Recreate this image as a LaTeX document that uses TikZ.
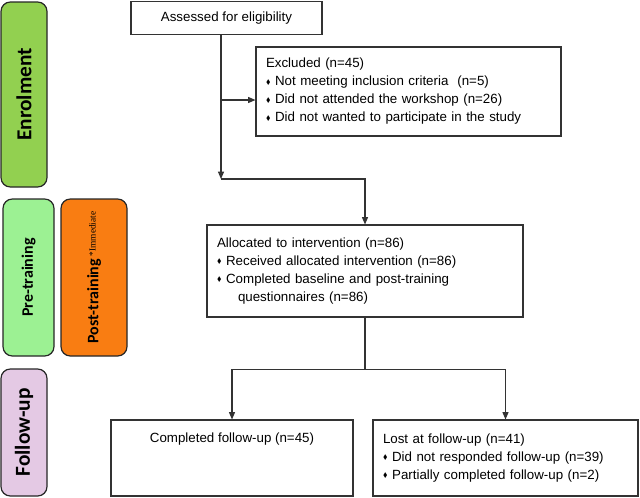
\documentclass[tikz,border=0pt]{standalone}
\usepackage{fontspec}
\usepackage{amssymb}
\setmainfont{Liberation Sans}
\newfontfamily\sidefont{Carlito}
\newfontfamily\notefont{Liberation Serif}
\definecolor{enrolgreen}{HTML}{92D050}
\definecolor{pregreen}{HTML}{9CF193}
\definecolor{postorange}{HTML}{F97D12}
\definecolor{fupurple}{HTML}{E4C9E4}
\definecolor{lineclr}{HTML}{333333}
\usetikzlibrary{arrows.meta}
\newcommand{\elbowto}[3]
{
	\draw[flowline] (#2.south) -- +(0,#1) -| (#3.north)
}
\newcommand{\itm}{\raisebox{0.25ex}{\scalebox{0.5}{$\blacklozenge$}}\hspace{3.5pt}}

\begin{document}
\begin{tikzpicture}[x=0.75pt, y=-0.75pt,
	every node/.append style={font=\fontsize{10}{13.5}\selectfont},
	flowbox/.style={shape=rectangle, draw=lineclr, line width=0.8pt, inner sep=7.5pt},
	sidebox/.style={shape=rectangle, rounded corners=7pt, draw=black!85, line width=0.9pt,
		rotate=90, inner sep=0pt, font=\sidefont\bfseries\fontsize{#1}{#1}\selectfont},
	flowline/.style={draw=lineclr, line width=0.8pt, -{Triangle[length=5.5pt, width=4.5pt]}}]

	\useasboundingbox (0, 0) rectangle (640, 497);
	\node[sidebox=16, fill = enrolgreen, minimum width=138.75pt, minimum height=34.5pt] at (24, 94.5) (EN){Enrolment};
	\node[sidebox=12, fill = pregreen, minimum width=117.75pt, minimum height=38.25pt] at (28.5, 277.5) (PR){Pre-training};
	\node[sidebox=12, fill = postorange, minimum width=117.75pt, minimum height=49.5pt] at (94, 277.5) (PT){Post-training\hspace{2pt}\raisebox{2pt}{\notefont\mdseries\fontsize{7}{8}\selectfont *Immediate}};
	\node[sidebox=16, fill = fupurple, minimum width=95.25pt, minimum height=34.5pt] at (24, 432.5) (FU){Follow-up};
	\node[flowbox, minimum width=143.25pt, minimum height=24pt] at (226.5, 18) (AS){Assessed for eligibility};
	\node[flowbox, minimum height=66.75pt, text width=213.75pt, align=left] at (408.5, 91.5) (EX){Excluded (n=45)\\
		\itm Not meeting inclusion criteria\ \ (n=5)\\
		\itm Did not attended the workshop (n=26)\\
		\itm Did not wanted to participate in the study};
	\node[flowbox, minimum height=69pt, text width=222pt, align=left] at (365, 271) (AL){Allocated to intervention (n=86)\\
		\itm Received allocated intervention (n=86)\\
		\itm Completed baseline and post-training\\
		\hspace*{15.75pt}questionnaires (n=86)};
	\node[flowbox, minimum width=181.5pt, minimum height=57pt, align=center] at (232, 458) (CF){Completed follow-up (n=45)\\ \strut\\ \strut};
	\node[flowbox, minimum height=57pt, text width=183.75pt, align=left] at (505.5, 458) (LF){Lost at follow-up (n=41)\\
		\itm Did not responded follow-up (n=39)\\
		\itm Partially completed follow-up (n=2)};
	\coordinate (J0) at (221, 100);
	\coordinate (J1) at (221, 179);
	\draw[flowline] (AS.south -| J1) -- (J1);
	\draw[flowline] (J0) -- (J0 -| EX.west);
	\draw[flowline] (J1) -| (AL.north);
	\elbowto{52}{AL}{CF};
	\elbowto{52}{AL}{LF};
\end{tikzpicture}
\end{document}
